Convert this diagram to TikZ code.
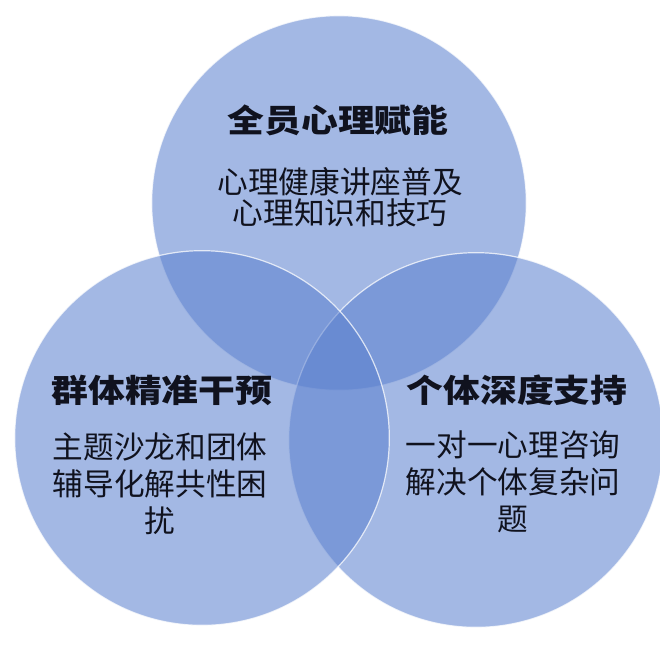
\documentclass[tikz,border=0pt]{standalone}
\usepackage{fontspec}
\newfontfamily\cjk{Noto Sans CJK SC}
\newfontfamily\cjkt[FakeStretch=1.15]{Noto Sans CJK SC}
\definecolor{vennblue}{HTML}{5C81CF}
\definecolor{ink}{HTML}{10121E}
\begin{document}
\begin{tikzpicture}[x=0.75pt,y=-0.75pt,
  venn/.style={circle,minimum size=281pt,inner sep=0pt,fill=vennblue,fill opacity=0.56,draw=white,draw opacity=0.75,line width=0.9pt},
  titletext/.style={font=\cjkt\bfseries\fontsize{24}{28}\selectfont,text=ink,inner sep=0pt},
  bodytext/.style={font=\cjk\fontsize{23}{23.5}\selectfont,text=ink,align=center,inner sep=0pt},
  bodywide/.style={bodytext,font=\cjk\fontsize{23}{27.75}\selectfont}]
\fill[white] (0,0) rectangle (660,657);
\useasboundingbox (0,0) rectangle (660,657);
\node[venn] (ctop) at (339,203) {};
\node[venn] (cright) at (476,440) {};
\node[venn] (cleft) at (202,438) {};
\node[titletext] (ttop) at (338,120) {全员心理赋能};
\node[bodytext] (btop) at (340,197) {心理健康讲座普及\\心理知识和技巧};
\node[titletext] (tleft) at (162,390) {群体精准干预};
\node[bodywide] (bleft) at (160,484) {主题沙龙和团体\\辅导化解共性困\\扰};
\node[titletext] (tright) at (517,390) {个体深度支持};
\node[bodywide] (bright) at (513,482) {一对一心理咨询\\解决个体复杂问\\题};
\end{tikzpicture}
\end{document}
